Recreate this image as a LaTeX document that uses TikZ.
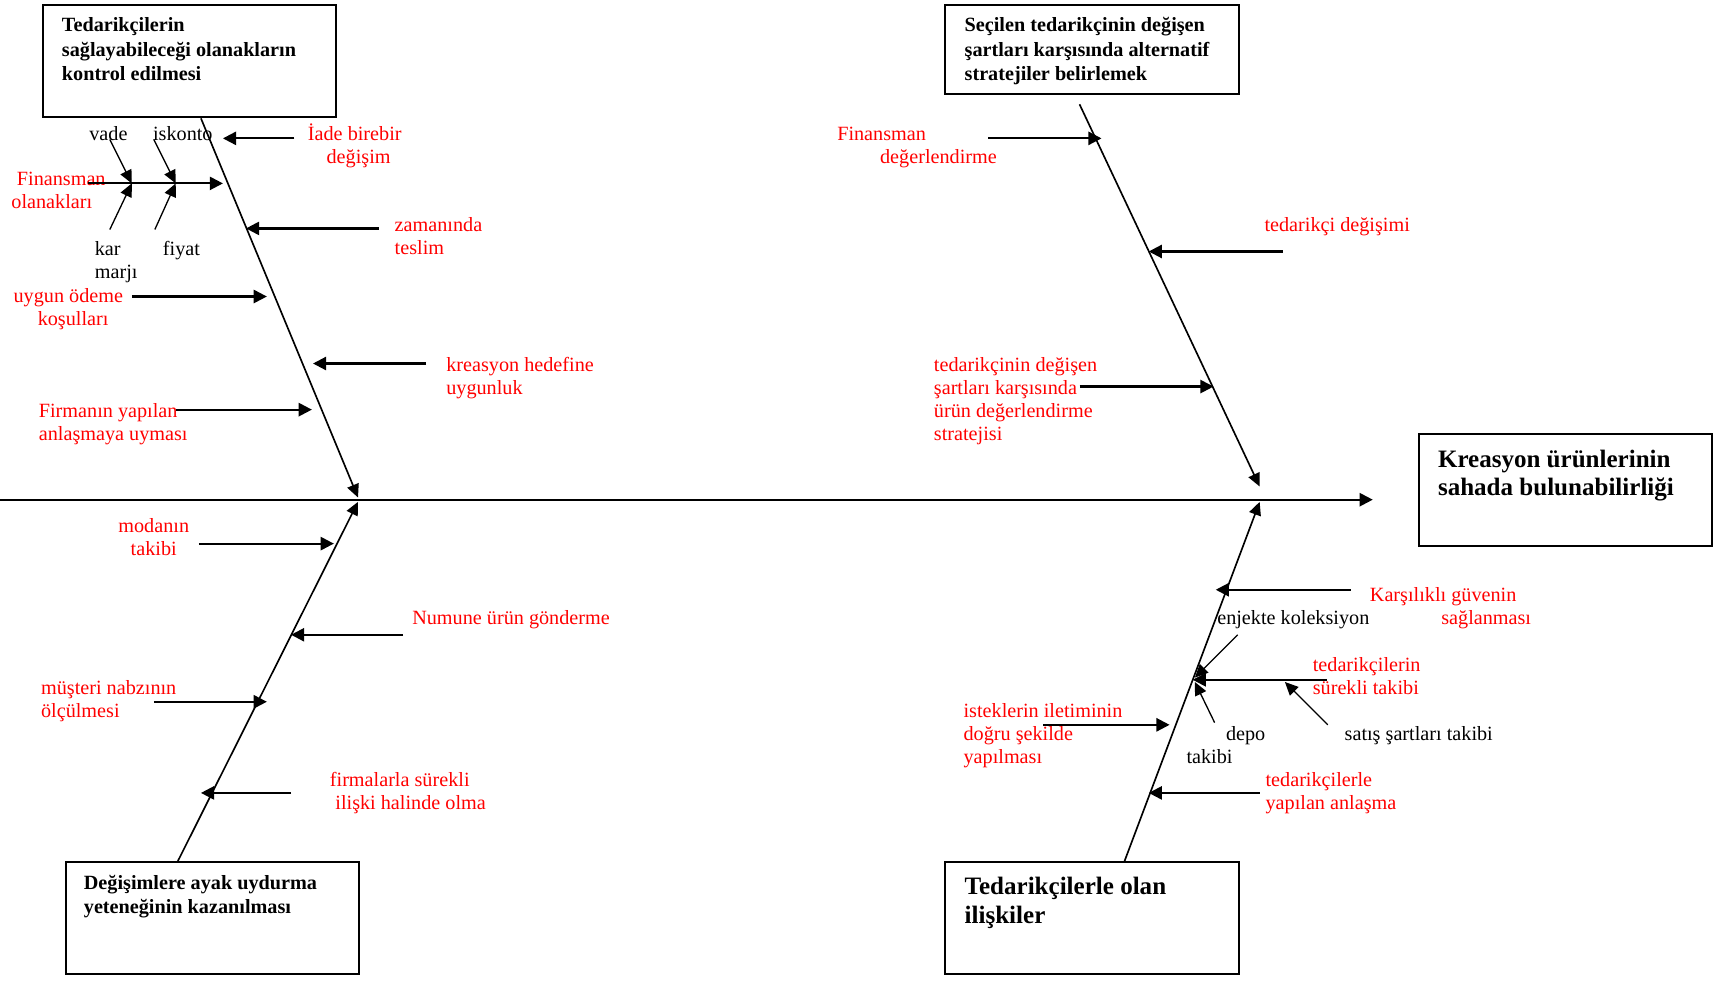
\documentclass[tikz,border=0pt]{standalone}
\usepackage{fontspec}
\setmainfont{Liberation Serif}
\usetikzlibrary{arrows.meta,calc}
\begin{document}
% Node texts are placed by the baseline of their last line.
\begin{tikzpicture}[x=0.5pt,y=-0.5pt,
  every node/.style={inner sep=0pt},
  lab/.style={text=red, font=\fontsize{9.2}{10.5}\selectfont, align=left, anchor=base west},
  sub/.style={text=black, font=\fontsize{9.2}{10.5}\selectfont, align=left, anchor=base west},
  frame/.style={draw, line width=0.9pt, anchor=north west, minimum width=133.5pt},
  title/.style={font=\bfseries\fontsize{9.2}{11}\selectfont, align=left, anchor=base west},
  bigtitle/.style={font=\bfseries\fontsize{11.4}{13}\selectfont, align=left, anchor=base west},
  bone/.style={line width=0.75pt, -{Triangle[length=6pt,width=5.5pt]}},
  feed/.style={line width=1pt, -{Triangle[length=6pt,width=6pt]}},
  twig/.style={line width=0.6pt, -{Triangle[length=6pt,width=5.5pt]}},
]
\useasboundingbox (0,0) rectangle (1568,893);

% category boxes and the effect box
\node[frame, minimum height=51pt]   (b1) at (38,4) {};
\node[frame, minimum height=40.5pt] (b2) at (860,4) {};
\node[frame, minimum height=51pt]   (head) at (1291,394) {};
\node[frame, minimum height=51pt]   (b3) at (59,784) {};
\node[frame, minimum height=51pt]   (b4) at (860,784) {};

\node[title] (t1) at (56,73) {Tedarikçilerin\\sağlayabileceği olanakların\\kontrol edilmesi};
\node[title] (t2) at (878,73) {Seçilen tedarikçinin değişen\\şartları karşısında alternatif\\stratejiler belirlemek};
\node[bigtitle] (th) at (1309,451.5) {Kreasyon ürünlerinin\\sahada bulunabilirliği};
\node[title] (t3) at (76,832) {Değişimlere ayak uydurma\\yeteneğinin kazanılması};
\node[bigtitle] (t4) at (878,840.5) {Tedarikçilerle olan\\ilişkiler};

% spine
\coordinate (tail) at (0,455);
\coordinate (spineEnd) at (1250,455);
\draw[feed] (tail) -- (spineEnd);

% main bones
\coordinate (jTL) at (326,453);
\coordinate (jBL) at (326,457);
\coordinate (jTR) at (1147,443);
\coordinate (jBR) at (1147,457);
\coordinate (sTR) at (983,95);
\draw[bone] ($(b1.south west)+(145,0)$) -- (jTL);
\draw[bone] ($(b3.north west)+(103,0)$) -- (jBL);
\draw[bone] (sTR) -- (jTR);
\draw[bone] ($(b4.north west)+(164,0)$) -- (jBR);

% ---- upper left bone ----
\node[lab] (l1) at (280,149) {İade birebir\\\hspace*{8.5pt}değişim};
\coordinate (a1s) at (268,126); \coordinate (a1e) at (203,126);
\draw[feed] (a1s) -- (a1e);

\node[lab] (l2) at (10,190) {\hspace*{2.5pt}Finansman\\olanakları};
\coordinate (a2s) at (80,167); \coordinate (a2e) at (203,167);
\draw[feed] (a2s) -- (a2e);
\coordinate (f1) at (120,167); \coordinate (f2) at (160,167);
\node[sub] (s1) at (81,128) {vade};
\node[sub] (s2) at (139,128) {iskonto};
\node[sub] (s3) at (86,254) {kar\\marjı};
\node[sub] (s4) at (148,233) {fiyat};
\coordinate (w1) at (100,127); \coordinate (w2) at (140,127);
\coordinate (w3) at (100,209); \coordinate (w4) at (141,209);
\draw[twig] (w1) -- (f1);
\draw[twig] (w3) -- (f1);
\draw[twig] (w2) -- (f2);
\draw[twig] (w4) -- (f2);

\node[lab] (l3) at (359,232) {zamanında\\teslim};
\coordinate (a3s) at (345,208); \coordinate (a3e) at (224,208);
\draw[feed] (a3s) -- (a3e);

\node[lab] (l4) at (12,296) {uygun ödeme\\\hspace*{11pt}koşulları};
\coordinate (a4s) at (120,270); \coordinate (a4e) at (243,270);
\draw[feed] (a4s) -- (a4e);

\node[lab] (l5) at (406,359) {kreasyon hedefine\\uygunluk};
\coordinate (a5s) at (388,331); \coordinate (a5e) at (285,331);
\draw[feed] (a5s) -- (a5e);

\node[lab] (l6) at (35,401) {Firmanın yapılan\\anlaşmaya uyması};
\coordinate (a6s) at (160,373); \coordinate (a6e) at (284,373);
\draw[feed] (a6s) -- (a6e);

% ---- lower left bone ----
\node[lab, align=center, anchor=base] (l7) at (140,506) {modanın\\takibi};
\coordinate (a7s) at (181,495); \coordinate (a7e) at (304,495);
\draw[feed] (a7s) -- (a7e);

\node[lab] (l8) at (375,569) {Numune ürün gönderme};
\coordinate (a8s) at (367,578); \coordinate (a8e) at (265,578);
\draw[feed] (a8s) -- (a8e);

\node[lab] (l9) at (37,653) {müşteri nabzının\\ölçülmesi};
\coordinate (a9s) at (140,639); \coordinate (a9e) at (243,639);
\draw[feed] (a9s) -- (a9e);

\node[lab] (l10) at (300,737) {firmalarla sürekli\\\hspace*{2.5pt}ilişki halinde olma};
\coordinate (a10s) at (265,722); \coordinate (a10e) at (183,722);
\draw[feed] (a10s) -- (a10e);

% ---- upper right bone ----
\node[lab] (l11) at (762,149) {Finansman\\\hspace*{19.5pt}değerlendirme};
\coordinate (a11s) at (900,126); \coordinate (a11e) at (1003,126);
\draw[feed] (a11s) -- (a11e);

\node[lab] (l12) at (1151,211) {tedarikçi değişimi};
\coordinate (a12s) at (1168,229); \coordinate (a12e) at (1046,229);
\draw[feed] (a12s) -- (a12e);

\node[lab] (l13) at (850,401) {tedarikçinin değişen\\şartları karşısında\\ürün değerlendirme\\stratejisi};
\coordinate (a13s) at (983,352); \coordinate (a13e) at (1105,352);
\draw[feed] (a13s) -- (a13e);

% ---- lower right bone ----
\node[lab] (l14) at (1247,569) {Karşılıklı güvenin\\\hspace*{32.5pt}sağlanması};
\coordinate (a14s) at (1230,537); \coordinate (a14e) at (1107,537);
\draw[feed] (a14s) -- (a14e);

\node[sub] (s5) at (1108,569) {enjekte koleksiyon};
\node[lab] (l15) at (1195,632) {tedarikçilerin\\sürekli takibi};
\coordinate (a15s) at (1208,619); \coordinate (a15e) at (1086,619);
\draw[feed] (a15s) -- (a15e);
\node[sub] (s6) at (1080,695) {\hspace*{18pt}depo\\takibi};
\node[sub] (s7) at (1224,674) {satış şartları takibi};
\coordinate (w5) at (1127,578); \coordinate (v5) at (1088,617);
\coordinate (w6) at (1106,658); \coordinate (v6) at (1088,621);
\coordinate (w7) at (1209,660); \coordinate (v7) at (1170,621);
\draw[twig] (w5) -- (v5);
\draw[twig] (w6) -- (v6);
\draw[twig] (w7) -- (v7);

\node[lab] (l16) at (877,695) {isteklerin iletiminin\\doğru şekilde\\yapılması};
\coordinate (a16s) at (950,660); \coordinate (a16e) at (1065,660);
\draw[feed] (a16s) -- (a16e);

\node[lab] (l17) at (1152,737) {tedarikçilerle\\yapılan anlaşma};
\coordinate (a17s) at (1147,722); \coordinate (a17e) at (1046,722);
\draw[feed] (a17s) -- (a17e);
\end{tikzpicture}
\end{document}
